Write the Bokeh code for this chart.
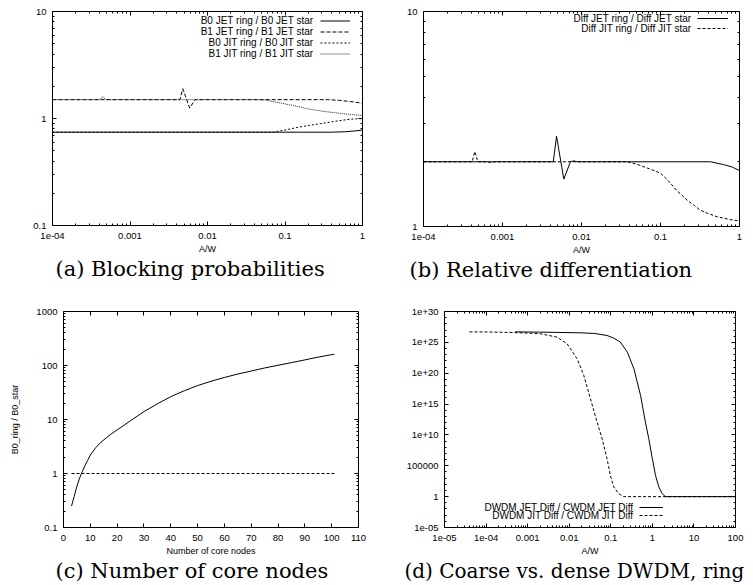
from bokeh.plotting import figure
from bokeh.models import Range1d, FixedTicker, LogAxis, LinearAxis, Legend, LegendItem, Label, Title
from bokeh.layouts import row, column
from bokeh.embed import file_html
from bokeh.resources import INLINE

# ---------------- data: (a) Blocking probabilities ----------------
A_B0_JET_X = [1e-4, 0.4, 0.6, 0.8, 1.0]
A_B0_JET_Y = [0.745, 0.745, 0.752, 0.765, 0.78]
A_B1_JET_X = [1e-4, 0.0044, 0.0048, 0.0059, 0.0069, 0.35, 0.5, 0.7, 1.0]
A_B1_JET_Y = [1.5, 1.5, 1.9, 1.25, 1.5, 1.5, 1.48, 1.44, 1.39]
A_B0_JIT_X = [1e-4, 0.07, 0.1, 0.15, 0.2, 0.3, 0.5, 0.7, 1.0]
A_B0_JIT_Y = [0.745, 0.745, 0.78, 0.83, 0.86, 0.90, 0.955, 0.985, 1.0]
A_B1_JIT_X = [1e-4, 0.00041, 0.00044, 0.00049, 0.04, 0.056, 0.07, 0.1, 0.15, 0.2, 0.3, 0.5, 0.7, 1.0]
A_B1_JIT_Y = [1.5, 1.5, 1.61, 1.5, 1.5, 1.49, 1.44, 1.37, 1.29, 1.23, 1.17, 1.12, 1.09, 1.07]
A_LABELS = ["B0 JET ring / B0 JET star", "B1 JET ring / B1 JET star",
            "B0 JIT ring / B0 JIT star", "B1 JIT ring / B1 JIT star"]

# ---------------- data: (b) Relative differentiation ----------------
B_JET_X = [1e-4, 0.00439, 0.00483, 0.00597, 0.00724, 0.0080, 0.0088, 0.43, 0.63, 0.81, 1.0]
B_JET_Y = [2.0, 2.0, 2.63, 1.66, 2.0, 2.02, 2.0, 2.0, 1.94, 1.89, 1.82]
B_JIT_X = [1e-4, 0.000413, 0.000446, 0.000487, 0.00065, 0.00071, 0.0008, 0.038, 0.05, 0.074,
           0.1, 0.12, 0.14, 0.16, 0.19, 0.22, 0.27, 0.32, 0.4, 0.52, 0.75, 1.0]
B_JIT_Y = [2.0, 2.0, 2.23, 2.0, 2.0, 1.98, 2.0, 2.0, 1.95, 1.85,
           1.77, 1.66, 1.56, 1.47, 1.39, 1.32, 1.25, 1.19, 1.15, 1.11, 1.078, 1.06]
B_LABELS = ["Diff JET ring / Diff JET star", "Diff JIT ring / Diff JIT star"]

# ---------------- data: (c) Number of core nodes ----------------
C_N = [3, 4, 5, 6, 7, 8, 9, 10, 12, 14, 16, 18, 20, 25, 30, 35, 40, 45, 50, 55, 60,
       65, 70, 75, 80, 85, 90, 95, 101]
C_RATIO = [0.25, 0.38, 0.58, 0.82, 1.08, 1.4, 1.75, 2.2, 3.0, 3.8, 4.6, 5.5, 6.4, 9.5, 14.0,
           19.5, 26.5, 34.0, 42.5, 51.0, 60.0, 69.5, 79.0, 90.0, 101.0, 113.0, 127.0, 143.0, 162.0]
C_REF_N = [3, 101]
C_REF_Y = [1.0, 1.0]

# ---------------- data: (d) Coarse vs. dense DWDM, ring ----------------
D_JET_X = [5e-4, 2e-3, 0.0186, 0.04, 0.081, 0.117, 0.17, 0.25, 0.36, 0.52, 0.68, 0.82, 1.0,
           1.19, 1.43, 1.72, 2.07, 3.0, 100.0]
D_JET_Y = [5e26, 4.5e26, 3.5e26, 2.8e26, 1.3e26, 5e25, 1.1e25, 2.6e23, 5.2e20, 2.5e16, 1.2e12,
           2.5e9, 1.4e6, 2900.0, 37.0, 3.1, 1.0, 1.0, 1.0]
D_JIT_X = [4e-5, 1e-4, 3e-4, 1e-3, 2e-3, 5.1e-3, 8.9e-3, 0.0155, 0.0224, 0.0324, 0.0468, 0.0617,
           0.0813, 0.0977, 0.1175, 0.155, 0.204, 100.0]
D_JIT_Y = [5e26, 4.8e26, 4.2e26, 3.2e26, 2.5e26, 7e25, 5.9e24, 2.2e22, 4.4e19, 7.4e15, 1.2e12,
           2.5e9, 1.4e6, 2900.0, 37.0, 3.1, 1.0, 1.0]
D_LABELS = ["DWDM JET Diff / CWDM JET Diff", "DWDM JIT Diff / CWDM JIT Diff"]

# ---------------- ticks ----------------
AB_XTICKS = [1e-4, 1e-3, 1e-2, 1e-1, 1.0]
AB_XTICK_LABELS = ["1e-04", "0.001", "0.01", "0.1", "1"]
A_YTICKS = [0.1, 1.0, 10.0]
A_YTICK_LABELS = ["0.1", "1", "10"]
B_YTICKS = [1.0, 10.0]
B_YTICK_LABELS = ["1", "10"]
C_XTICKS = [0, 10, 20, 30, 40, 50, 60, 70, 80, 90, 100, 110]
C_YTICKS = [0.1, 1.0, 10.0, 100.0, 1000.0]
C_YTICK_LABELS = ["0.1", "1", "10", "100", "1000"]
D_XTICKS = [1e-5, 1e-4, 1e-3, 1e-2, 1e-1, 1.0, 10.0, 100.0]
D_XTICK_LABELS = ["1e-05", "1e-04", "0.001", "0.01", "0.1", "1", "10", "100"]
D_YTICKS = [1e-5, 1.0, 1e5, 1e10, 1e15, 1e20, 1e25, 1e30]
D_YTICK_LABELS = ["1e-05", "1", "100000", "1e+10", "1e+15", "1e+20", "1e+25", "1e+30"]

CAPTIONS = ["(a) Blocking probabilities", "(b) Relative differentiation",
            "(c) Number of core nodes", "(d) Coarse vs. dense DWDM, ring"]

SANS = "Liberation Sans"
SERIF = "DejaVu Serif"
TICK_FS = "9.5px"
KEY_FS = "10px"
AXLAB_FS = "9px"


def log_minor(ticks):
    return [m * t for t in ticks[:-1] for m in range(2, 10)]


def make_ticker(ticks, minor):
    return FixedTicker(ticks=list(ticks), minor_ticks=list(minor))


def style_axis(ax, show_labels=True):
    ax.axis_line_color = None
    ax.major_tick_in = 4
    ax.major_tick_out = 0
    ax.minor_tick_in = 2
    ax.minor_tick_out = 0
    ax.major_tick_line_color = "black"
    ax.minor_tick_line_color = "black"
    ax.major_label_text_font = SANS
    ax.axis_label_text_font = SANS
    ax.axis_label_text_font_size = AXLAB_FS
    ax.axis_label_text_font_style = "normal"
    ax.axis_label_text_color = "black"
    if show_labels:
        ax.major_label_text_font_size = TICK_FS
        ax.major_label_text_color = "black"
        ax.major_label_standoff = 7
    else:
        ax.major_label_text_font_size = "2px"
        ax.major_label_text_alpha = 0
        ax.major_label_standoff = 0


def make_fig(xtype, ytype, xr, yr, fw, fh, bl, br, bt, bb,
             xticker, yticker, xlabels=None, ylabels=None, xlabel=None, ylabel=None):
    p = figure(x_axis_type=xtype, y_axis_type=ytype,
               x_range=Range1d(*xr), y_range=Range1d(*yr),
               frame_width=fw, frame_height=fh,
               min_border_left=bl, min_border_right=br,
               min_border_top=bt, min_border_bottom=bb,
               output_backend="svg", toolbar_location=None)
    p.xgrid.visible = False
    p.ygrid.visible = False
    p.outline_line_color = "black"
    p.outline_line_width = 1
    p.outline_line_alpha = 1
    p.background_fill_color = "white"
    p.border_fill_color = "white"
    xa = p.xaxis[0]
    ya = p.yaxis[0]
    xa.ticker = xticker
    ya.ticker = yticker
    style_axis(xa)
    style_axis(ya)
    ya.major_label_standoff = 6
    if xlabels is not None:
        xa.major_label_overrides = {float(t): l for t, l in xlabels}
    if ylabels is not None:
        ya.major_label_overrides = {float(t): l for t, l in ylabels}
    if xlabel:
        xa.axis_label = xlabel
        xa.axis_label_standoff = 2
    if ylabel:
        ya.axis_label = ylabel
        ya.axis_label_standoff = 13
    AxX = LogAxis if xtype == "log" else LinearAxis
    AxY = LogAxis if ytype == "log" else LinearAxis
    top = AxX(ticker=xticker)
    right = AxY(ticker=yticker)
    style_axis(top, False)
    style_axis(right, False)
    p.add_layout(top, "above")
    p.add_layout(right, "right")
    return p


def add_key(p, renderers, labels, loc, text_right, rows_from_bottom, gw, gh):
    items = [LegendItem(label="-", renderers=[r]) for r in renderers]
    lg = Legend(items=items, location=loc, glyph_width=gw, glyph_height=gh,
                label_height=gh, label_width=1, label_standoff=0, spacing=0,
                padding=0, margin=0, border_line_color=None, background_fill_alpha=0,
                label_text_font_size="4px", label_text_alpha=0)
    p.add_layout(lg)
    for lab, yy in zip(labels, rows_from_bottom):
        p.add_layout(Label(x=text_right, y=yy, x_units="screen", y_units="screen", text=lab,
                           text_align="right", text_baseline="middle", text_font=SANS,
                           text_font_size=KEY_FS, text_color="black"))


def add_caption(p, text, off, size="21px"):
    t = Title(text=text, align="left", offset=off, text_font=SERIF, text_font_size=size,
              text_font_style="normal", text_color="black", standoff=0, vertical_align="top")
    p.add_layout(t, "below")


LW = 1

# ----- (a) -----
pa = make_fig("log", "log", (1e-4, 1.0), (0.1, 10.0), 310, 214, 52, 22, 11, 65,
              make_ticker(AB_XTICKS, log_minor(AB_XTICKS)),
              make_ticker(A_YTICKS, log_minor(A_YTICKS)),
              xlabels=zip(AB_XTICKS, AB_XTICK_LABELS), ylabels=zip(A_YTICKS, A_YTICK_LABELS),
              xlabel="A/W")
ra1 = pa.line(A_B0_JET_X, A_B0_JET_Y, line_color="black", line_width=LW)
ra2 = pa.line(A_B1_JET_X, A_B1_JET_Y, line_color="black", line_width=LW, line_dash="4 2")
ra3 = pa.line(A_B0_JIT_X, A_B0_JIT_Y, line_color="black", line_width=LW, line_dash="2 2")
ra4 = pa.line(A_B1_JIT_X, A_B1_JIT_Y, line_color="#222222", line_width=LW, line_dash="1 1")
add_key(pa, [ra1, ra2, ra3, ra4], A_LABELS, (268, 166), 261,
        [205, 194, 183, 172], 30, 11)
add_caption(pa, CAPTIONS[0], 3)

# ----- (b) -----
pb = make_fig("log", "log", (1e-4, 1.0), (1.0, 10.0), 316, 215, 39, 13, 11, 64,
              make_ticker(AB_XTICKS, log_minor(AB_XTICKS)),
              make_ticker(B_YTICKS, log_minor(B_YTICKS)),
              xlabels=zip(AB_XTICKS, AB_XTICK_LABELS), ylabels=zip(B_YTICKS, B_YTICK_LABELS),
              xlabel="A/W")
rb1 = pb.line(B_JET_X, B_JET_Y, line_color="black", line_width=LW)
rb2 = pb.line(B_JIT_X, B_JIT_Y, line_color="black", line_width=LW, line_dash="3 2")
add_key(pb, [rb1, rb2], B_LABELS, (274, 193), 268, [207.7, 197.7], 31, 10)
add_caption(pb, CAPTIONS[1], -14)

# ----- (c) -----
pc = make_fig("linear", "log", (0, 110), (0.1, 1000.0), 295, 216, 63, 26, 21, 57,
              make_ticker(C_XTICKS, []),
              make_ticker(C_YTICKS, log_minor(C_YTICKS)),
              ylabels=zip(C_YTICKS, C_YTICK_LABELS),
              xlabel="Number of core nodes", ylabel="B0_ring / B0_star")
pc.xaxis[0].axis_label_standoff = 1
pc.line(C_N, C_RATIO, line_color="black", line_width=LW)
pc.line(C_REF_N, C_REF_Y, line_color="black", line_width=LW, line_dash="3 2")
add_caption(pc, CAPTIONS[2], -8)

# ----- (d) -----
D_YMINOR = [10.0 ** k for k in range(-5, 31) if k % 5 != 0]
pd_ = make_fig("log", "log", (1e-5, 100.0), (1e-5, 1e30), 291, 216, 60, 17, 21, 57,
               make_ticker(D_XTICKS, log_minor(D_XTICKS)),
               make_ticker(D_YTICKS, D_YMINOR),
               xlabels=zip(D_XTICKS, D_XTICK_LABELS), ylabels=zip(D_YTICKS, D_YTICK_LABELS),
               xlabel="A/W")
pd_.xaxis[0].axis_label_standoff = 1
rd1 = pd_.line(D_JET_X, D_JET_Y, line_color="black", line_width=LW)
rd2 = pd_.line(D_JIT_X, D_JIT_Y, line_color="black", line_width=LW, line_dash="3 2")
add_key(pd_, [rd1, rd2], D_LABELS, (195, 8), 189, [20.3, 12.3], 24, 8)
add_caption(pd_, CAPTIONS[3], -40, "20px")

layout = column(row(pa, pb, spacing=0), row(pc, pd_, spacing=0), spacing=0)

with open("out.html", "w") as f:
    f.write(file_html(layout, INLINE))
